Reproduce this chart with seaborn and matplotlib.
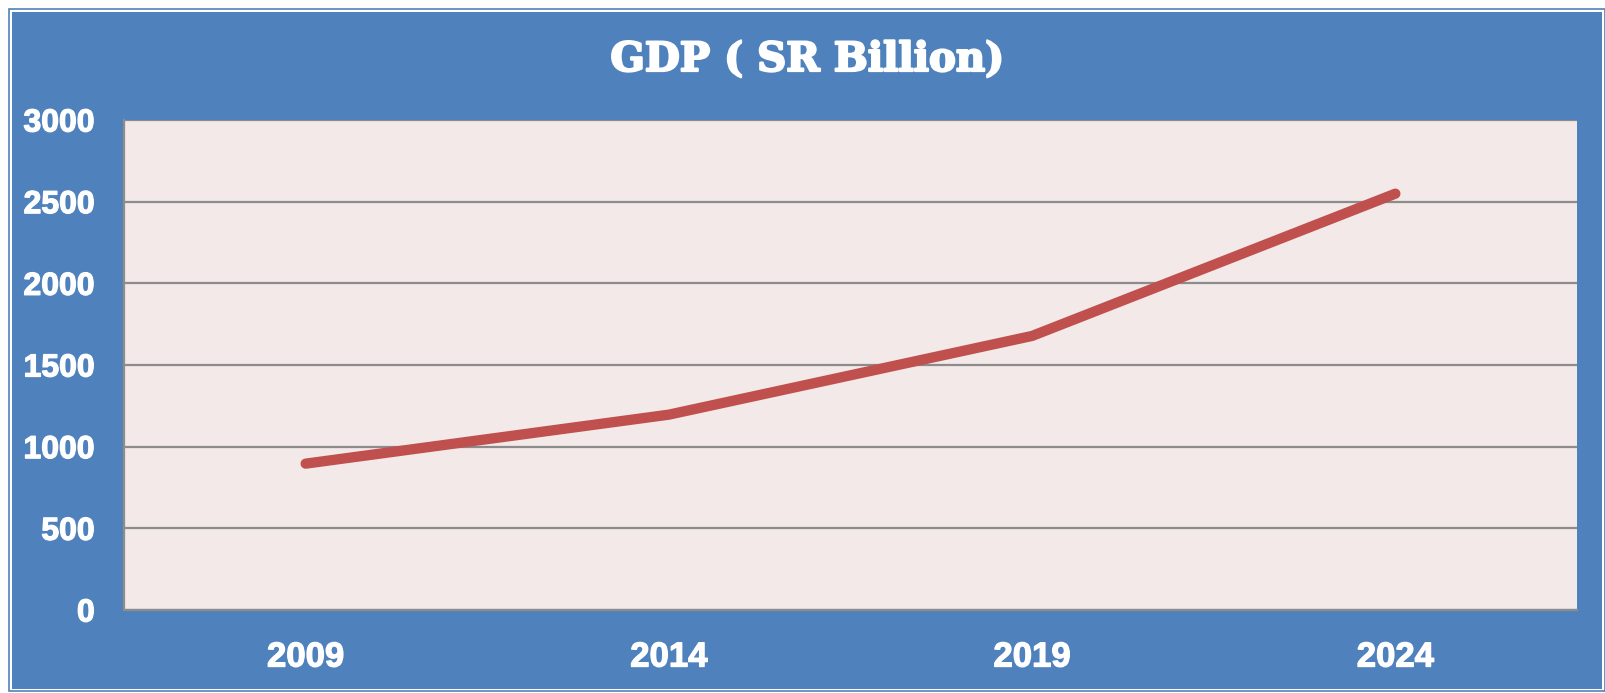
import pandas as pd
import numpy as np
import matplotlib
matplotlib.use('Agg')
import matplotlib.pyplot as plt
import matplotlib.patheffects as pe
from matplotlib.patches import Rectangle
import seaborn as sns

sns.set_style('white')
plt.rcParams['font.family'] = ['Liberation Sans', 'DejaVu Sans']

# GDP values
years = ['2009', '2014', '2019', '2024']
gdp = [896, 1196, 1678, 2549]
yticks = [0, 500, 1000, 1500, 2000, 2500, 3000]

df = pd.DataFrame({'year': years, 'gdp': gdp})

blue = '#4F81BD'
fig = plt.figure(figsize=(16.06, 6.93), dpi=100, facecolor='white')

# outer frame: thin blue line, white gap, blue fill
W, H = 1606, 693
fig.patches.append(Rectangle((9 / W, 1 - 691 / H), 1596 / W, 682 / H, transform=fig.transFigure,
                             facecolor='none', edgecolor=blue, linewidth=1.2, zorder=-2))
fig.patches.append(Rectangle((12 / W, 1 - 689 / H), 1590 / W, 677 / H, transform=fig.transFigure,
                             facecolor=blue, edgecolor='none', zorder=-2))

ax = fig.add_axes([124 / W, 1 - 610 / H, 1453 / W, 490 / H])
ax.set_facecolor('#F2E9E8')

sns.lineplot(data=df, x='year', y='gdp', ax=ax, color='#C0504D', linewidth=7.4,
             solid_capstyle='round', solid_joinstyle='miter', sort=False)

ax.set_xlim(-0.5, len(years) - 0.5)
ax.set_ylim(0, 3000)
ax.set_yticks(yticks)
ax.set_yticklabels([str(v) for v in yticks])
ax.yaxis.grid(True, color='#8C8C8C', linewidth=1.6)
ax.set_axisbelow(True)
ax.set_xlabel('')
ax.set_ylabel('')

for s in ['top', 'right']:
    ax.spines[s].set_visible(False)
for s in ['left', 'bottom']:
    ax.spines[s].set_color('#8C8C8C')
    ax.spines[s].set_linewidth(1.6)

ax.tick_params(axis='y', length=0, pad=21, labelsize=23, labelcolor='white')
ax.tick_params(axis='x', length=0, pad=22, labelsize=25, labelcolor='white')
# slight stroke so the labels look as heavy as the original
heavy = [pe.withStroke(linewidth=0.9, foreground='white')]
for lab in ax.get_xticklabels() + ax.get_yticklabels():
    lab.set_fontweight('bold')
    lab.set_path_effects(heavy)

fig.text(0.5025, 1 - 60 / H, 'GDP ( SR Billion)', ha='center', va='center', color='white',
         fontsize=29, fontweight='bold', family=['DejaVu Serif'],
         path_effects=[pe.withStroke(linewidth=1.6, foreground='white')])

fig.savefig('out.png', dpi=100, facecolor=fig.get_facecolor())
